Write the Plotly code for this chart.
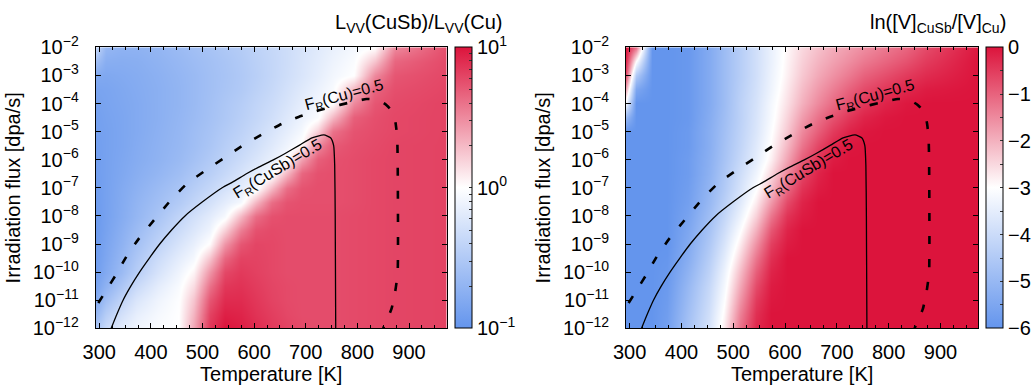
import math
import plotly.graph_objects as go

# ---------------- data ----------------
temperature_K = [293, 313, 343, 373, 413, 453, 483, 513, 543, 573,
                 603, 633, 663, 693, 723, 753, 793, 833, 873, 973]
log10_flux = [-2, -2.5, -3, -3.5, -4, -4.5, -5, -5.5, -6, -6.5, -7,
              -7.5, -8, -8.5, -9, -9.5, -10, -10.5, -11, -11.5, -12]   # rows, top -> bottom

# log10( L_VV(CuSb) / L_VV(Cu) )
lvv_ratio_log10 = [
    [-0.35, -0.68, -0.72, -0.72, -0.69, -0.64, -0.60, -0.56, -0.52, -0.48, -0.42, -0.37, -0.32, -0.26, -0.20, -0.14, -0.07, 0.00, 0.50, 0.75],
    [-0.60, -0.76, -0.77, -0.76, -0.72, -0.67, -0.63, -0.59, -0.55, -0.50, -0.44, -0.38, -0.32, -0.25, -0.18, -0.11, -0.03, 0.25, 0.65, 0.77],
    [-0.80, -0.82, -0.80, -0.78, -0.74, -0.69, -0.65, -0.60, -0.56, -0.51, -0.45, -0.38, -0.31, -0.24, -0.16, -0.08, 0.00, 0.50, 0.72, 0.78],
    [-0.86, -0.85, -0.82, -0.79, -0.75, -0.70, -0.65, -0.60, -0.55, -0.50, -0.43, -0.36, -0.28, -0.20, -0.12, -0.04, 0.30, 0.66, 0.75, 0.79],
    [-0.88, -0.86, -0.83, -0.80, -0.75, -0.70, -0.65, -0.59, -0.53, -0.47, -0.40, -0.33, -0.25, -0.16, -0.08, 0.00, 0.50, 0.72, 0.77, 0.80],
    [-0.90, -0.87, -0.84, -0.80, -0.75, -0.69, -0.64, -0.58, -0.52, -0.45, -0.38, -0.30, -0.21, -0.12, -0.03, 0.30, 0.68, 0.75, 0.78, 0.80],
    [-0.90, -0.88, -0.84, -0.80, -0.74, -0.68, -0.62, -0.56, -0.49, -0.42, -0.34, -0.25, -0.16, -0.06, 0.20, 0.60, 0.73, 0.76, 0.78, 0.80],
    [-0.91, -0.88, -0.84, -0.79, -0.73, -0.67, -0.61, -0.54, -0.46, -0.38, -0.30, -0.20, -0.10, 0.02, 0.50, 0.70, 0.75, 0.77, 0.79, 0.80],
    [-0.92, -0.88, -0.83, -0.78, -0.72, -0.65, -0.58, -0.50, -0.42, -0.33, -0.24, -0.14, -0.02, 0.40, 0.68, 0.74, 0.76, 0.78, 0.79, 0.80],
    [-0.92, -0.88, -0.82, -0.76, -0.69, -0.61, -0.53, -0.45, -0.36, -0.26, -0.16, -0.05, 0.30, 0.65, 0.74, 0.75, 0.76, 0.78, 0.79, 0.80],
    [-0.93, -0.88, -0.80, -0.73, -0.64, -0.55, -0.46, -0.37, -0.27, -0.17, -0.06, 0.30, 0.62, 0.73, 0.75, 0.75, 0.76, 0.78, 0.79, 0.80],
    [-0.94, -0.88, -0.79, -0.70, -0.60, -0.49, -0.39, -0.28, -0.17, -0.06, 0.30, 0.62, 0.73, 0.75, 0.75, 0.75, 0.76, 0.78, 0.79, 0.80],
    [-0.95, -0.88, -0.78, -0.68, -0.55, -0.40, -0.29, -0.18, -0.05, 0.30, 0.62, 0.74, 0.76, 0.76, 0.76, 0.76, 0.77, 0.78, 0.79, 0.80],
    [-0.95, -0.87, -0.75, -0.63, -0.48, -0.33, -0.22, -0.10, 0.20, 0.55, 0.74, 0.77, 0.76, 0.76, 0.76, 0.76, 0.77, 0.78, 0.79, 0.80],
    [-0.94, -0.85, -0.72, -0.58, -0.41, -0.25, -0.14, 0.02, 0.45, 0.72, 0.79, 0.78, 0.76, 0.76, 0.76, 0.76, 0.77, 0.78, 0.79, 0.80],
    [-0.93, -0.83, -0.68, -0.52, -0.33, -0.17, -0.06, 0.25, 0.65, 0.80, 0.80, 0.78, 0.76, 0.76, 0.76, 0.76, 0.77, 0.78, 0.79, 0.80],
    [-0.92, -0.80, -0.64, -0.46, -0.26, -0.10, 0.05, 0.45, 0.78, 0.84, 0.81, 0.78, 0.76, 0.76, 0.76, 0.76, 0.77, 0.78, 0.79, 0.80],
    [-0.87, -0.72, -0.53, -0.34, -0.17, -0.04, 0.15, 0.60, 0.85, 0.87, 0.83, 0.79, 0.77, 0.76, 0.76, 0.76, 0.77, 0.78, 0.79, 0.80],
    [-0.80, -0.60, -0.40, -0.23, -0.10, -0.01, 0.25, 0.72, 0.90, 0.90, 0.85, 0.80, 0.77, 0.76, 0.76, 0.76, 0.77, 0.78, 0.79, 0.80],
    [-0.68, -0.47, -0.28, -0.15, -0.06, 0.00, 0.32, 0.80, 0.95, 0.93, 0.87, 0.82, 0.78, 0.76, 0.76, 0.76, 0.77, 0.78, 0.79, 0.80],
    [-0.55, -0.35, -0.18, -0.09, -0.03, 0.00, 0.38, 0.85, 1.00, 0.96, 0.90, 0.84, 0.80, 0.77, 0.76, 0.76, 0.77, 0.78, 0.79, 0.80],
]

# ln( [V]_CuSb / [V]_Cu )
vacancy_ratio_ln = [
    [0.0, -1.2, -6.0, -6.0, -5.9, -5.4, -4.9, -4.4, -3.9, -3.4, -2.9, -2.5, -2.2, -1.95, -1.75, -1.55, -1.3, -1.05, -0.7, -0.05],
    [-0.3, -3.0, -6.0, -6.0, -5.9, -5.4, -4.9, -4.4, -3.9, -3.4, -2.85, -2.4, -2.05, -1.8, -1.55, -1.3, -1.05, -0.8, -0.5, 0.0],
    [-0.8, -4.5, -6.0, -6.0, -5.9, -5.4, -4.9, -4.4, -3.9, -3.35, -2.8, -2.3, -1.9, -1.6, -1.3, -1.0, -0.75, -0.5, -0.3, 0.0],
    [-2.0, -5.5, -6.0, -6.0, -5.9, -5.4, -4.9, -4.35, -3.85, -3.3, -2.7, -2.15, -1.7, -1.35, -1.0, -0.7, -0.45, -0.25, -0.1, 0.0],
    [-3.3, -6.0, -6.0, -6.0, -5.9, -5.4, -4.9, -4.3, -3.8, -3.2, -2.6, -2.0, -1.5, -1.1, -0.75, -0.45, -0.2, -0.05, 0.0, 0.0],
    [-5.0, -6.0, -6.0, -6.0, -5.9, -5.35, -4.85, -4.3, -3.75, -3.15, -2.45, -1.75, -1.2, -0.8, -0.45, -0.2, -0.05, 0.0, 0.0, 0.0],
    [-6.0, -6.0, -6.0, -6.0, -5.85, -5.3, -4.8, -4.25, -3.7, -3.05, -2.3, -1.5, -0.95, -0.5, -0.2, -0.05, 0.0, 0.0, 0.0, 0.0],
    [-6.0, -6.0, -6.0, -6.0, -5.85, -5.3, -4.75, -4.2, -3.6, -2.95, -2.1, -1.25, -0.65, -0.25, -0.05, 0.0, 0.0, 0.0, 0.0, 0.0],
    [-6.0, -6.0, -6.0, -6.0, -5.8, -5.25, -4.7, -4.1, -3.5, -2.8, -1.85, -0.95, -0.4, -0.1, 0.0, 0.0, 0.0, 0.0, 0.0, 0.0],
    [-6.0, -6.0, -6.0, -6.0, -5.8, -5.2, -4.6, -3.95, -3.3, -2.5, -1.5, -0.65, -0.2, 0.0, 0.0, 0.0, 0.0, 0.0, 0.0, 0.0],
    [-6.0, -6.0, -6.0, -6.0, -5.75, -5.1, -4.5, -3.8, -3.05, -2.15, -1.1, -0.4, -0.1, 0.0, 0.0, 0.0, 0.0, 0.0, 0.0, 0.0],
    [-6.0, -6.0, -6.0, -6.0, -5.7, -5.0, -4.35, -3.6, -2.75, -1.7, -0.7, -0.2, 0.0, 0.0, 0.0, 0.0, 0.0, 0.0, 0.0, 0.0],
    [-6.0, -6.0, -6.0, -6.0, -5.6, -4.85, -4.15, -3.35, -2.4, -1.25, -0.4, -0.1, 0.0, 0.0, 0.0, 0.0, 0.0, 0.0, 0.0, 0.0],
    [-6.0, -6.0, -6.0, -6.0, -5.5, -4.7, -3.95, -3.05, -2.0, -0.85, -0.2, 0.0, 0.0, 0.0, 0.0, 0.0, 0.0, 0.0, 0.0, 0.0],
    [-6.0, -6.0, -6.0, -6.0, -5.4, -4.55, -3.75, -2.75, -1.6, -0.55, -0.1, 0.0, 0.0, 0.0, 0.0, 0.0, 0.0, 0.0, 0.0, 0.0],
    [-6.0, -6.0, -6.0, -5.95, -5.3, -4.4, -3.55, -2.45, -1.25, -0.35, 0.0, 0.0, 0.0, 0.0, 0.0, 0.0, 0.0, 0.0, 0.0, 0.0],
    [-6.0, -6.0, -6.0, -5.9, -5.15, -4.25, -3.35, -2.15, -0.95, -0.2, 0.0, 0.0, 0.0, 0.0, 0.0, 0.0, 0.0, 0.0, 0.0, 0.0],
    [-6.0, -6.0, -6.0, -5.85, -5.0, -4.1, -3.2, -1.9, -0.7, -0.1, 0.0, 0.0, 0.0, 0.0, 0.0, 0.0, 0.0, 0.0, 0.0, 0.0],
    [-6.0, -6.0, -6.0, -5.8, -4.9, -4.0, -3.05, -1.65, -0.5, -0.05, 0.0, 0.0, 0.0, 0.0, 0.0, 0.0, 0.0, 0.0, 0.0, 0.0],
    [-6.0, -6.0, -6.0, -5.75, -4.8, -3.9, -2.9, -1.4, -0.35, 0.0, 0.0, 0.0, 0.0, 0.0, 0.0, 0.0, 0.0, 0.0, 0.0, 0.0],
    [-6.0, -6.0, -6.0, -5.7, -4.7, -3.8, -2.75, -1.2, -0.25, 0.0, 0.0, 0.0, 0.0, 0.0, 0.0, 0.0, 0.0, 0.0, 0.0, 0.0],
]

# F_R(CuSb)=0.5 contour (solid)
fr_cusb_T = [323, 334, 346, 361, 378, 397, 417, 440, 466, 500, 538, 558, 585, 607, 638, 660, 688, 712, 735, 748, 754, 756, 757, 758]
fr_cusb_logf = [-12.0, -11.5, -11.0, -10.5, -10.0, -9.5, -9.0, -8.5, -8.0, -7.5, -7.0, -6.8, -6.5, -6.28, -6.0, -5.78, -5.48, -5.22, -5.12, -5.22, -5.5, -6.2, -8.0, -12.0]

# F_R(Cu)=0.5 contour (dashed)
fr_cu_T = [298, 315, 332, 354, 377, 406, 438, 470, 506, 541, 576, 615, 654, 686, 720, 750, 782, 818, 840, 856, 868, 874, 877, 878, 878, 873, 866, 850]
fr_cu_logf = [-11.1, -10.6, -10.1, -9.4, -8.8, -8.15, -7.45, -6.85, -6.38, -5.95, -5.52, -5.1, -4.72, -4.48, -4.27, -4.12, -3.98, -3.84, -3.88, -4.05, -4.3, -4.7, -5.2, -6.0, -10.0, -10.72, -11.31, -12.0]

x_tick_values = [300, 400, 500, 600, 700, 800, 900]
y_tick_values = [-12, -11, -10, -9, -8, -7, -6, -5, -4, -3, -2]
y_tick_text = ["10<sup>\u2212%d</sup>" % (-v) for v in y_tick_values]

cb1_major = [-1, 0, 1]
cb1_major_text = ["10<sup>\u22121</sup>", "10<sup>0</sup>", "10<sup>1</sup>"]
cb1_minor_mantissa = [2, 3, 4, 5, 6, 7, 8, 9]
cb2_major = [-6, -5, -4, -3, -2, -1, 0]
cb2_minor = [-5.5, -4.5, -3.5, -2.5, -1.5, -0.5]

# ---------------- styling ----------------
FONT = "Liberation Sans, Arial, Helvetica, sans-serif"
W, H = 1032, 385
colorscale = [[0.0, "#6495ED"], [0.5, "#FFFFFF"], [1.0, "#DC143C"]]

ydom = [1 - 328.3 / H, 1 - 47.3 / H]
x1dom = [95.7 / W, 446.7 / W]
x2dom = [626.0 / W, 978.3 / W]

cb1_vals = []
cb1_text = []
for d in [-1, 0]:
    for m in cb1_minor_mantissa:
        cb1_vals.append(d + math.log10(m))
        cb1_text.append(" ")
cb1_vals += cb1_major
cb1_text += cb1_major_text

cb2_vals = cb2_minor + cb2_major
cb2_text = [" "] * len(cb2_minor) + ["%d" % v if v >= 0 else "\u2212%d" % (-v) for v in cb2_major]

cb_common = dict(
    thickness=17, thicknessmode="pixels", len=ydom[1] - ydom[0], lenmode="fraction",
    y=(ydom[0] + ydom[1]) / 2, yanchor="middle", xanchor="left", xpad=0, ypad=0,
    outlinecolor="black", outlinewidth=1, ticks="inside", ticklen=3, tickcolor="#333",
    tickfont=dict(size=20, family=FONT, color="black"), tickmode="array",
)

fig = go.Figure()
fig.add_trace(go.Heatmap(
    x=temperature_K, y=log10_flux, z=lvv_ratio_log10, zmin=-1, zmax=1, zsmooth="best",
    colorscale=colorscale, xaxis="x", yaxis="y", hoverinfo="skip",
    colorbar=dict(x=455.0 / W, tickvals=cb1_vals, ticktext=cb1_text, **cb_common),
))
fig.add_trace(go.Heatmap(
    x=temperature_K, y=log10_flux, z=vacancy_ratio_ln, zmin=-6, zmax=0, zsmooth="best",
    colorscale=colorscale, xaxis="x2", yaxis="y2", hoverinfo="skip",
    colorbar=dict(x=986.0 / W, tickvals=cb2_vals, ticktext=cb2_text, **cb_common),
))

for xa, ya in [("x", "y"), ("x2", "y2")]:
    fig.add_trace(go.Scatter(x=fr_cusb_T, y=fr_cusb_logf, mode="lines", xaxis=xa, yaxis=ya,
                             line=dict(color="black", width=1.3, shape="spline", smoothing=0.5),
                             showlegend=False, hoverinfo="skip"))
    fig.add_trace(go.Scatter(x=fr_cu_T, y=fr_cu_logf, mode="lines", xaxis=xa, yaxis=ya,
                             line=dict(color="black", width=2.6, dash="8px,15px", shape="spline", smoothing=0.5),
                             showlegend=False, hoverinfo="skip"))

axis_common = dict(
    showline=True, linecolor="black", linewidth=1, mirror="ticks",
    ticks="inside", ticklen=5, tickcolor="black", showgrid=False, zeroline=False,
    tickfont=dict(size=20, family=FONT, color="black"), automargin=False,
)
xaxis_common = dict(axis_common, range=[293, 973], tickmode="array", tickvals=x_tick_values,
                    minor=dict(dtick=25, tick0=300, ticks="inside", ticklen=3, tickcolor="black"),
                    title=dict(text="Temperature [K]", font=dict(size=20, family=FONT, color="black"), standoff=4),
                    ticklabelstandoff=6)
yaxis_common = dict(axis_common, range=[-12, -2], tickmode="array", tickvals=y_tick_values,
                    ticktext=y_tick_text, domain=ydom,
                    title=dict(text="Irradiation flux [dpa/s]", font=dict(size=20, family=FONT, color="black"), standoff=6),
                    ticklabelstandoff=12)

fig.update_layout(
    width=W, height=H, margin=dict(l=0, r=0, t=0, b=0, autoexpand=False),
    paper_bgcolor="white", plot_bgcolor="white", showlegend=False,
    font=dict(family=FONT, size=20, color="black"),
    xaxis=dict(xaxis_common, domain=x1dom, anchor="y"),
    yaxis=dict(yaxis_common, anchor="x"),
    xaxis2=dict(xaxis_common, domain=x2dom, anchor="y2"),
    yaxis2=dict(yaxis_common, anchor="x2"),
)

# contour labels and colorbar titles
for xr, yr in [("x", "y"), ("x2", "y2")]:
    fig.add_annotation(x=646, y=-6.36, xref=xr, yref=yr, text="F<sub>R</sub>(CuSb)=0.5",
                       showarrow=False, textangle=-31, font=dict(size=16, family=FONT, color="black"))
    fig.add_annotation(x=775, y=-3.72, xref=xr, yref=yr, text="F<sub>R</sub>(Cu)=0.5",
                       showarrow=False, textangle=-15, font=dict(size=16, family=FONT, color="black"))

fig.add_annotation(x=504.0 / W, y=1 - 23.0 / H, xref="paper", yref="paper", xanchor="right", yanchor="middle",
                   text="L<sub>VV</sub>(CuSb)/L<sub>VV</sub>(Cu)", showarrow=False,
                   font=dict(size=20, family=FONT, color="black"))
fig.add_annotation(x=1008.0 / W, y=1 - 23.0 / H, xref="paper", yref="paper", xanchor="right", yanchor="middle",
                   text="ln([V]<sub>CuSb</sub>/[V]<sub>Cu</sub>)", showarrow=False,
                   font=dict(size=20, family=FONT, color="black"))

fig.write_html("out.html")
